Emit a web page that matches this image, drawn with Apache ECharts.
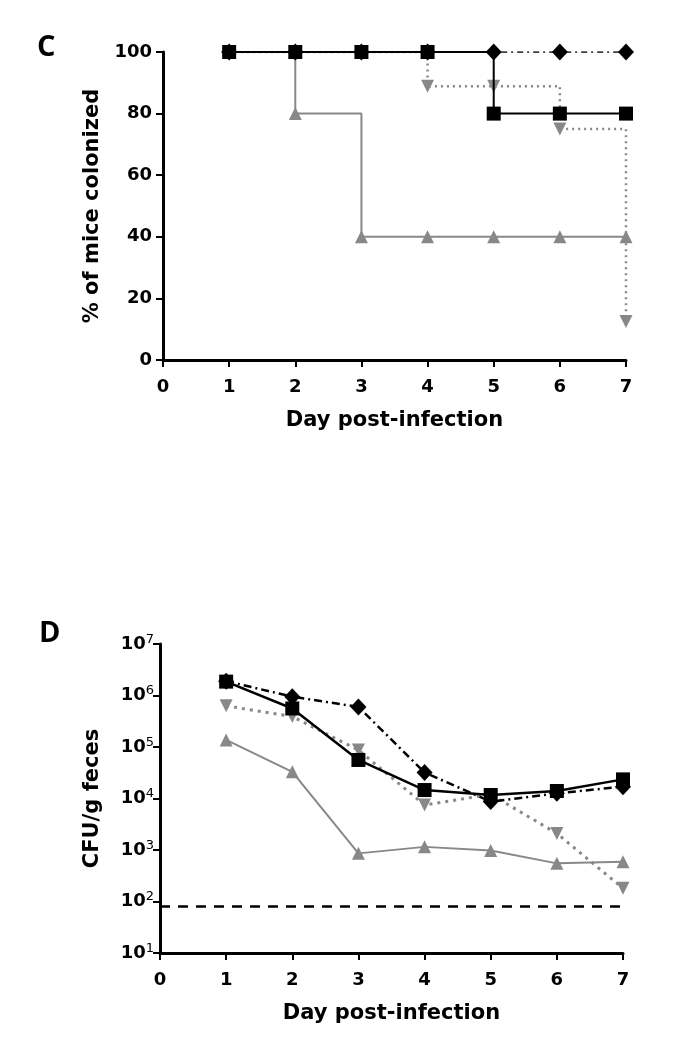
<!DOCTYPE html>
<html><head><meta charset="utf-8">
<script src="https://cdn.jsdelivr.net/npm/echarts@6/dist/echarts.min.js"></script>
<style>html,body{margin:0;padding:0;background:#fff}#c{width:680px;height:1050px}</style>
</head><body><div id="c"></div>
<script>
// ---- data ----
const days = [1, 2, 3, 4, 5, 6, 7];
// Panel C: % of mice colonized
const pctSquare  = [100, 100, 100, 100, 80, 80, 80];
const pctDiamond = [100, 100, 100, 100, 100, 100, 100];
const pctTriUp   = [100, 80, 40, 40, 40, 40, 40];
const pctTriDown = [100, 100, 100, 88.9, 88.9, 75, 12.5];
// Panel D: CFU/g feces
const cfuSquare  = [1.86e6, 5.6e5, 5.6e4, 1.46e4, 1.17e4, 1.4e4, 2.35e4];
const cfuDiamond = [1.9e6, 9.5e5, 6.0e5, 3.2e4, 8.7e3, 1.26e4, 1.7e4];
const cfuTriDown = [6.3e5, 3.9e5, 8.7e4, 7.5e3, 1.2e4, 2.1e3, 180];
const cfuTriUp   = [1.37e5, 3.3e4, 860, 1150, 975, 550, 590];
const lodX = [0, 7];
const lodValue = 80;

const pair = (xs, ys) => xs.map((x, i) => [x, ys[i]]);
const FONT = 'DejaVu Sans';
const GRAY = '#888888';

const axisCommon = {
  axisLine: { lineStyle: { color: '#000', width: 3 } },
  axisTick: { length: 7, lineStyle: { color: '#000', width: 2 } },
  splitLine: { show: false },
  nameTextStyle: { fontFamily: FONT, fontWeight: 'bold', fontSize: 21, color: '#000' }
};
const labelCommon = { fontFamily: FONT, fontWeight: 'bold', fontSize: 18, color: '#000' };

const chart = echarts.init(document.getElementById('c'), null, { renderer: 'canvas' });
chart.setOption({
  animation: false,
  backgroundColor: '#fff',
  title: [
    { text: 'C', left: 32, top: 28, textStyle: { fontFamily: 'Open Sans', fontWeight: 'bold', fontSize: 29, color: '#000' } },
    { text: 'D', left: 34, top: 614, textStyle: { fontFamily: 'Open Sans', fontWeight: 'bold', fontSize: 29, color: '#000' } }
  ],
  grid: [
    { left: 163, top: 52, width: 463, height: 308 },
    { left: 160, top: 644, width: 463, height: 309 }
  ],
  xAxis: [
    Object.assign({}, axisCommon, { gridIndex: 0, type: 'value', min: 0, max: 7, interval: 1,
      name: 'Day post-infection', nameLocation: 'middle', nameGap: 50,
      axisLabel: Object.assign({ margin: 18 }, labelCommon) }),
    Object.assign({}, axisCommon, { gridIndex: 1, type: 'value', min: 0, max: 7, interval: 1,
      name: 'Day post-infection', nameLocation: 'middle', nameGap: 50,
      axisLabel: Object.assign({ margin: 18 }, labelCommon) })
  ],
  yAxis: [
    Object.assign({}, axisCommon, { gridIndex: 0, type: 'value', min: 0, max: 100, interval: 20,
      name: '% of mice colonized', nameLocation: 'middle', nameGap: 60,
      axisLabel: Object.assign({ margin: 11 }, labelCommon) }),
    Object.assign({}, axisCommon, { gridIndex: 1, type: 'log', logBase: 10, min: 10, max: 1e7,
      name: 'CFU/g feces', nameLocation: 'middle', nameGap: 57,
      axisLabel: {
        margin: 6,
        formatter: v => '{b|10}{s|' + Math.round(Math.log10(v)) + '}',
        rich: {
          b: { fontFamily: FONT, fontWeight: 'bold', fontSize: 18, color: '#000', lineHeight: 22 },
          s: { fontFamily: FONT, fontSize: 13, color: '#000', lineHeight: 22, verticalAlign: 'top', padding: [0, 0, 8, 0] }
        }
      } })
  ],
  series: [
    // Panel C
    { type: 'line', xAxisIndex: 0, yAxisIndex: 0, step: 'end', data: pair(days, pctTriUp), z: 2,
      symbol: 'triangle', symbolSize: 13, lineStyle: { color: GRAY, width: 2 }, itemStyle: { color: GRAY } },
    { type: 'line', xAxisIndex: 0, yAxisIndex: 0, step: 'end', data: pair(days, pctTriDown), z: 3,
      symbol: 'triangle', symbolRotate: 180, symbolSize: 13, lineStyle: { color: GRAY, width: 2.5, type: [2, 4] }, itemStyle: { color: GRAY } },
    { type: 'line', xAxisIndex: 0, yAxisIndex: 0, step: 'end', data: pair(days, pctDiamond), z: 4,
      symbol: 'diamond', symbolSize: [16, 17], lineStyle: { color: '#000', width: 1.5, type: [6, 4, 2, 4] }, itemStyle: { color: '#000' } },
    { type: 'line', xAxisIndex: 0, yAxisIndex: 0, step: 'end', data: pair(days, pctSquare), z: 5,
      symbol: 'rect', symbolSize: 14, lineStyle: { color: '#000', width: 2 }, itemStyle: { color: '#000' } },
    // Panel D
    { type: 'line', xAxisIndex: 1, yAxisIndex: 1, data: pair(lodX, [lodValue, lodValue]), z: 1,
      symbol: 'none', lineStyle: { color: '#000', width: 2.5, type: [10, 8] } },
    { type: 'line', xAxisIndex: 1, yAxisIndex: 1, data: pair(days, cfuTriUp), z: 2,
      symbol: 'triangle', symbolSize: 13, lineStyle: { color: GRAY, width: 2 }, itemStyle: { color: GRAY } },
    { type: 'line', xAxisIndex: 1, yAxisIndex: 1, data: pair(days, cfuTriDown), z: 3,
      symbol: 'triangle', symbolRotate: 180, symbolSize: 13, lineStyle: { color: GRAY, width: 3, type: [3, 5] }, itemStyle: { color: GRAY } },
    { type: 'line', xAxisIndex: 1, yAxisIndex: 1, data: pair(days, cfuDiamond), z: 4,
      symbol: 'diamond', symbolSize: [16, 17], lineStyle: { color: '#000', width: 2.5, type: [8, 4, 2, 4] }, itemStyle: { color: '#000' } },
    { type: 'line', xAxisIndex: 1, yAxisIndex: 1, data: pair(days, cfuSquare), z: 5,
      symbol: 'rect', symbolSize: 14, lineStyle: { color: '#000', width: 2.5 }, itemStyle: { color: '#000' } }
  ]
});
</script>
</body></html>
